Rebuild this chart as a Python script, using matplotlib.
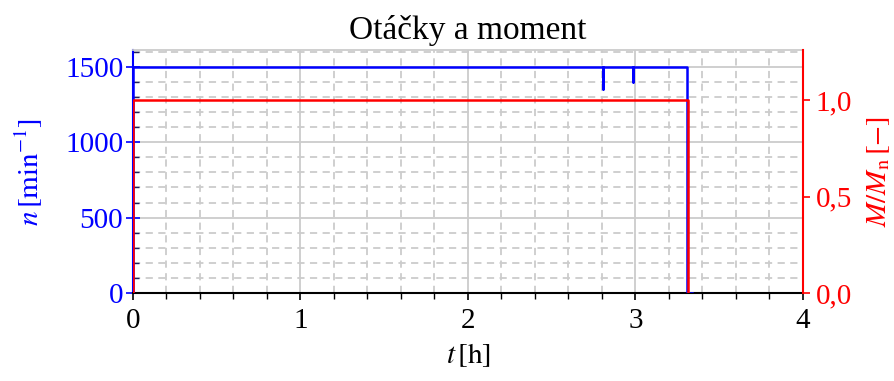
import matplotlib
matplotlib.use("Agg")
import matplotlib.pyplot as plt
from matplotlib.ticker import MultipleLocator

plt.rcParams['font.family'] = ['Liberation Serif', 'DejaVu Serif']
plt.rcParams['mathtext.fontset'] = 'stix'

# speed trace [h], [1/min]
t_n = [0.0, 0.0, 2.804, 2.804, 2.806, 2.806, 2.985, 2.985, 2.987, 2.987, 3.309, 3.309, 3.34]
n = [0, 1500, 1500, 1354, 1354, 1500, 1500, 1396, 1396, 1500, 1500, 0, 0]

# relative torque trace [h], [-]
t_m = [0.0, 0.0, 3.312, 3.312]
m_rel = [0.0, 1.0, 1.0, 0.0]

n_ticks = [0, 500, 1000, 1500]
m_ticks = [0.0, 0.5, 1.0]
m_ticklabels = ['0,0', '0,5', '1,0']
t_ticks = [0, 1, 2, 3, 4]

blue = '#0000ff'
red = '#ff0000'
grid_c = '#cccccc'
fs = 21

fig = plt.figure(figsize=(8.95, 3.81), dpi=100)
ax = fig.add_axes([0.1486, 0.231, 0.7486, 0.638])
ax2 = ax.twinx()

ax.plot(t_n, n, color=blue, lw=1.8, zorder=3)
ax2.plot(t_m, m_rel, color=red, lw=1.8, zorder=3)

ax.set_xlim(0, 4)
ax.set_ylim(0, 1612)
ax2.set_ylim(0, 1.26)

ax.set_xticks(t_ticks)
ax.xaxis.set_minor_locator(MultipleLocator(0.2))
ax.set_yticks(n_ticks)
ax.yaxis.set_minor_locator(MultipleLocator(100))
ax2.set_yticks(m_ticks)
ax2.set_yticklabels(m_ticklabels)

# grid: solid at majors, dashed at minors
ax.grid(which='major', color=grid_c, lw=1.3, ls='-')
ax.grid(which='minor', color=grid_c, lw=1.3, ls=(0, (4, 3)))
ax.set_axisbelow(True)

ax.tick_params(axis='x', which='major', direction='out', length=5, width=1.2,
               labelsize=fs, colors='black', pad=6)
ax.tick_params(axis='x', which='minor', direction='out', length=4, width=1.0)
ax.tick_params(axis='y', which='major', direction='inout', length=10, width=1.2,
               labelsize=fs, colors=blue, pad=2)
ax.tick_params(axis='y', which='minor', direction='in', length=4, width=1.0,
               color='#202060')
ax2.tick_params(axis='y', which='major', direction='out', length=5, width=1.2,
                labelsize=fs, colors=red, pad=4)

for side in ('left', 'right', 'top', 'bottom'):
    ax.spines[side].set_visible(False)
    ax2.spines[side].set_visible(False)
ax.spines['bottom'].set_visible(True)
ax.spines['bottom'].set_linewidth(1.5)
ax.spines['left'].set_visible(True)
ax.spines['left'].set_color(blue)
ax.spines['left'].set_linewidth(1.5)
ax2.spines['right'].set_visible(True)
ax2.spines['right'].set_color(red)
ax2.spines['right'].set_linewidth(1.5)
ax.spines['top'].set_visible(True)
ax.spines['top'].set_color(grid_c)
ax.spines['top'].set_linewidth(1.3)

ax.set_xlabel(r'$t\,[\mathrm{h}]$', fontsize=fs, labelpad=5)
ax.set_ylabel(r'$n\,[\mathrm{min}^{-1}]$', fontsize=fs, color=blue, labelpad=14)
ax2.set_ylabel(r'$M/M_\mathrm{n}\,[-]$', fontsize=fs, color=red, labelpad=10)
ax.set_title('Otáčky a moment', fontsize=24, pad=8)

fig.savefig('out.png', dpi=100)
